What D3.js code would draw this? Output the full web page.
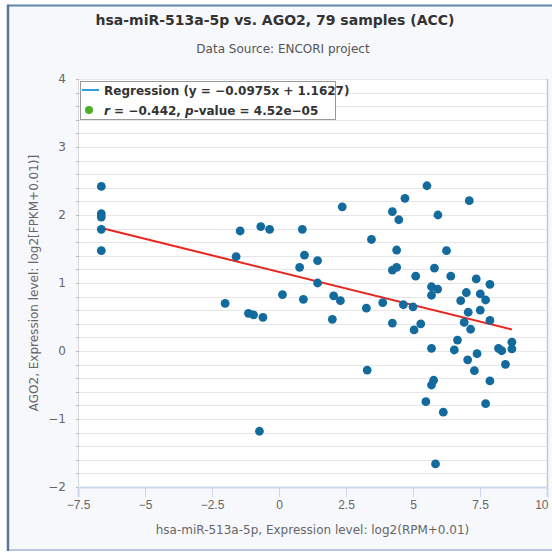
<!DOCTYPE html>
<html>
<head>
<meta charset="utf-8">
<script src="https://cdn.jsdelivr.net/npm/d3@7/dist/d3.min.js"></script>
<style>
  html, body { margin: 0; padding: 0; background: #fff; }
  svg { display: block; font-family: "DejaVu Sans", "Lucida Grande", sans-serif; }
</style>
</head>
<body>
<div id="chart"></div>
<script>
// miRNA expression (x) and AGO2 expression (y), one entry per sample
const mirExpr = [
  -6.63, -6.63, -6.63, -6.63, -6.63, -1.45, -1.6, -2.01, -1.14, -0.95,
  -0.6, -0.68, -0.35, 0.13, 0.87, 0.95, 0.77, 0.91, 1.44, 1.44,
  2.36, 2.04, 2.29, 1.99, 3.45, 3.26, 3.87, 4.23, 4.7, 4.47,
  4.39, 4.23, 4.39, 4.64, 5.0, 5.1, 4.23, 5.29, 5.04, 5.52,
  5.93, 7.1, 6.25, 5.8, 6.41, 5.69, 5.92, 5.69, 7.36, 7.87,
  6.99, 7.51, 6.78, 7.71, 7.51, 7.06, 7.87, 6.91, 7.15, 6.66,
  5.69, 6.54, 7.39, 7.04, 8.19, 8.31, 8.69, 8.69, 8.45, 7.29,
  3.29, 5.77, 5.69, 7.87, 5.48, 7.71, 6.13, 5.84, -0.73
];
const ago2Expr = [
  2.42, 2.02, 1.97, 1.79, 1.475, 1.765, 1.387, 0.7, 0.554, 0.53,
  0.495, 1.83, 1.79, 0.83, 1.79, 1.41, 1.23, 0.76, 1.33, 1.0,
  2.12, 0.81, 0.74, 0.466, 1.64, 0.63, 0.71, 2.05, 2.245, 1.93,
  1.485, 1.19, 1.23, 0.68, 0.65, 1.1, 0.41, 0.4, 0.31, 2.43,
  2.0, 2.21, 1.475, 1.22, 1.1, 0.945, 0.91, 0.82, 1.06, 0.98,
  0.86, 0.84, 0.74, 0.75, 0.6, 0.57, 0.45, 0.42, 0.32, 0.16,
  0.04, 0.015, -0.04, -0.13, 0.04, 0.004, 0.13, 0.03, -0.196, -0.29,
  -0.28, -0.43, -0.5, -0.44, -0.745, -0.775, -0.9, -1.66, -1.18
];
const slope = -0.0975;
const intercept = 1.1627;
const xTicks = [-7.5, -5, -2.5, 0, 2.5, 5, 7.5, 10];
const yTicks = [-2, -1, 0, 1, 2, 3, 4];

const titleText = "hsa-miR-513a-5p vs. AGO2, 79 samples (ACC)";
const subtitleText = "Data Source: ENCORI project";
const xTitle = "hsa-miR-513a-5p, Expression level: log2(RPM+0.01)";
const yTitle = "AGO2, Expression level: log2[FPKM+0.01)]";

const width = 552, height = 554;
const plot = { left: 78, right: 547, top: 79, bottom: 487 };

const svg = d3.select("#chart").append("svg")
  .attr("width", width).attr("height", height);

// outer frame (runs off the right edge)
svg.append("rect")
  .attr("x", 8).attr("y", 5).attr("width", width).attr("height", 545)
  .attr("fill", "#f7f8fc");
svg.append("line").attr("x1", 8).attr("x2", width).attr("y1", 5.5).attr("y2", 5.5)
  .attr("stroke", "#6384ad").attr("stroke-width", 2);
svg.append("line").attr("x1", 8).attr("x2", width).attr("y1", 550).attr("y2", 550)
  .attr("stroke", "#b9c9e2").attr("stroke-width", 2);
svg.append("line").attr("x1", 8).attr("x2", 8).attr("y1", 4.5).attr("y2", 551)
  .attr("stroke", "#55779f").attr("stroke-width", 2.5);

const x = d3.scaleLinear().domain([-7.5, 10]).range([plot.left, plot.right]);
const y = d3.scaleLinear().domain([-2, 4]).range([plot.bottom, plot.top]);

// plot background
svg.append("rect")
  .attr("x", plot.left).attr("y", plot.top)
  .attr("width", plot.right - plot.left).attr("height", plot.bottom - plot.top)
  .attr("fill", "#ffffff");

// horizontal grid every 0.2
const minor = d3.range(-2, 4.0001, 0.2);
svg.append("g")
  .selectAll("line").data(minor).join("line")
  .attr("x1", plot.left).attr("x2", plot.right)
  .attr("y1", d => Math.round(y(d)) + 0.5).attr("y2", d => Math.round(y(d)) + 0.5)
  .attr("stroke", "#e6e6e6");

// y axis line with small minor ticks
svg.append("line")
  .attr("x1", plot.left + 0.5).attr("x2", plot.left + 0.5)
  .attr("y1", plot.top).attr("y2", plot.bottom)
  .attr("stroke", "#d8d8d8");
svg.append("g")
  .selectAll("line").data(minor).join("line")
  .attr("x1", plot.left - 2).attr("x2", plot.left + 1)
  .attr("y1", d => Math.round(y(d)) + 0.5).attr("y2", d => Math.round(y(d)) + 0.5)
  .attr("stroke", "#bbbbbb");

// right edge of plot
svg.append("line")
  .attr("x1", plot.right + 0.5).attr("x2", plot.right + 0.5)
  .attr("y1", plot.top).attr("y2", plot.bottom)
  .attr("stroke", "#c8c8c8").attr("stroke-width", 1.5);

// x axis
const xAxis = svg.append("g")
  .attr("transform", `translate(0,${plot.bottom})`)
  .call(d3.axisBottom(x).tickValues(xTicks).tickSize(10).tickPadding(3)
    .tickFormat(d => String(d).replace("-", "\u2212")));
xAxis.select(".domain").attr("stroke", "#ccd6eb").attr("stroke-width", 2);
xAxis.selectAll(".tick line").attr("stroke", "#ccd6eb");
xAxis.selectAll("text").attr("fill", "#666").style("font-size", "12px");
// last label is pulled inside the chart edge
xAxis.selectAll(".tick text").filter(d => d === 10)
  .attr("text-anchor", "end").attr("x", 1);

// y axis labels
svg.append("g").selectAll("text").data(yTicks).join("text")
  .attr("x", plot.left - 12).attr("y", d => y(d) + 4)
  .attr("text-anchor", "end").attr("fill", "#666").style("font-size", "12px")
  .text(d => String(d).replace("-", "\u2212"));

// regression line across the data range
const [xmin, xmax] = d3.extent(mirExpr);
svg.append("line")
  .attr("x1", x(xmin)).attr("y1", y(slope * xmin + intercept))
  .attr("x2", x(xmax)).attr("y2", y(slope * xmax + intercept))
  .attr("stroke", "#e8261d").attr("stroke-width", 2);

// points
svg.append("g").selectAll("circle")
  .data(d3.zip(mirExpr, ago2Expr)).join("circle")
  .attr("cx", d => x(d[0])).attr("cy", d => y(d[1]))
  .attr("r", 4.4).attr("fill", "#136a9c");

// titles
svg.append("text").attr("x", 275).attr("y", 25).attr("text-anchor", "middle")
  .attr("fill", "#333").style("font-size", "14px").style("font-weight", "bold")
  .text(titleText);
svg.append("text").attr("x", 283).attr("y", 53).attr("text-anchor", "middle")
  .attr("fill", "#555").style("font-size", "12px")
  .text(subtitleText);
svg.append("text").attr("x", (plot.left + plot.right) / 2).attr("y", 534)
  .attr("text-anchor", "middle").attr("fill", "#666").style("font-size", "12px")
  .text(xTitle);
svg.append("text")
  .attr("transform", `translate(38,${(plot.top + plot.bottom) / 2}) rotate(-90)`)
  .attr("text-anchor", "middle").attr("fill", "#666").style("font-size", "12px")
  .text(yTitle);

// legend
const lg = svg.append("g");
lg.append("rect").attr("x", 80.5).attr("y", 81.5).attr("width", 255).attr("height", 38)
  .attr("fill", "#fff").attr("stroke", "#999").attr("stroke-width", 1);
lg.append("line").attr("x1", 82).attr("x2", 99).attr("y1", 90).attr("y2", 90)
  .attr("stroke", "#2f9ee0").attr("stroke-width", 2);
lg.append("text").attr("x", 104).attr("y", 95)
  .attr("fill", "#333").style("font-size", "12px").style("font-weight", "bold")
  .text("Regression (y = \u22120.0975x + 1.1627)");
lg.append("circle").attr("cx", 89).attr("cy", 110).attr("r", 4).attr("fill", "#4caf2a");
const t2 = lg.append("text").attr("x", 104).attr("y", 115)
  .attr("fill", "#333").style("font-size", "12px").style("font-weight", "bold");
t2.append("tspan").style("font-style", "italic").text("r");
t2.append("tspan").text(" = \u22120.442, ");
t2.append("tspan").style("font-style", "italic").text("p");
t2.append("tspan").text("-value = 4.52e\u221205");
</script>
</body>
</html>
